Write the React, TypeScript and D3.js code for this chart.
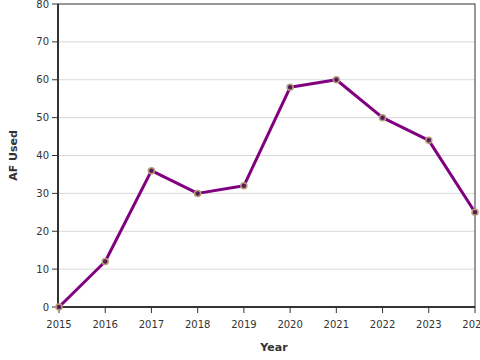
import React from "react";
import * as d3 from "d3";

const years = [2015, 2016, 2017, 2018, 2019, 2020, 2021, 2022, 2023, 2024];
const afUsed = [0, 12, 36, 30, 32, 58, 60, 50, 44, 25];
const yTicks = [0, 10, 20, 30, 40, 50, 60, 70, 80];

export default function App() {
  const W = 480, H = 360;
  const m = { left: 58, right: 5, top: 4, bottom: 53 };
  const x = d3.scaleLinear().domain([2015, 2024]).range([m.left + 1, W - m.right]);
  const y = d3.scaleLinear().domain([0, 80]).range([H - m.bottom, m.top]);
  const line = d3.line<number>().x((_, i) => x(years[i])).y((d) => y(d));
  const font = "DejaVu Sans, sans-serif";
  return (
    <svg width={W} height={H} style={{ position: "fixed", left: 0, top: 0, background: "#fff" }}>
      {yTicks.slice(1, -1).map((t) => (
        <line key={"g" + t} x1={m.left} x2={W - m.right} y1={y(t)} y2={y(t)} stroke="#d9d9d9" strokeWidth={1} />
      ))}
      <rect x={m.left} y={m.top} width={W - m.right - m.left} height={H - m.bottom - m.top} fill="none" stroke="#333" strokeWidth={1} />
      <line x1={m.left} x2={m.left} y1={m.top} y2={H - m.bottom} stroke="#333" strokeWidth={2} />
      <line x1={m.left} x2={W - m.right} y1={H - m.bottom} y2={H - m.bottom} stroke="#333" strokeWidth={2} />
      {yTicks.map((t) => (
        <g key={"y" + t}>
          <line x1={m.left - 6} x2={m.left} y1={y(t)} y2={y(t)} stroke="#333" strokeWidth={1} />
          <text x={m.left - 9} y={y(t)} dy="0.35em" textAnchor="end" fontSize={10} fontFamily={font} fill="#333">{t}</text>
        </g>
      ))}
      {years.map((yr) => (
        <g key={"x" + yr}>
          <line x1={x(yr)} x2={x(yr)} y1={H - m.bottom} y2={H - m.bottom + 6} stroke="#333" strokeWidth={1} />
          <text x={x(yr)} y={H - m.bottom + 21} textAnchor="middle" fontSize={10} fontFamily={font} fill="#333">{yr}</text>
        </g>
      ))}
      <path d={line(afUsed) || ""} fill="none" stroke="#800080" strokeWidth={3} strokeLinejoin="round" />
      {afUsed.map((v, i) => (
        <circle key={"c" + i} cx={x(years[i])} cy={y(v)} r={3} fill="#5a1a5a" stroke="#b5a07a" strokeWidth={1.5} />
      ))}
      <text x={(m.left + W) / 2 + 5} y={351} textAnchor="middle" fontSize={11} fontWeight="bold" fontFamily={font} fill="#333">Year</text>
      <text transform={`translate(17,${(m.top + H - m.bottom) / 2}) rotate(-90)`} textAnchor="middle" fontSize={11} fontWeight="bold" fontFamily={font} fill="#333">AF Used</text>
    </svg>
  );
}
